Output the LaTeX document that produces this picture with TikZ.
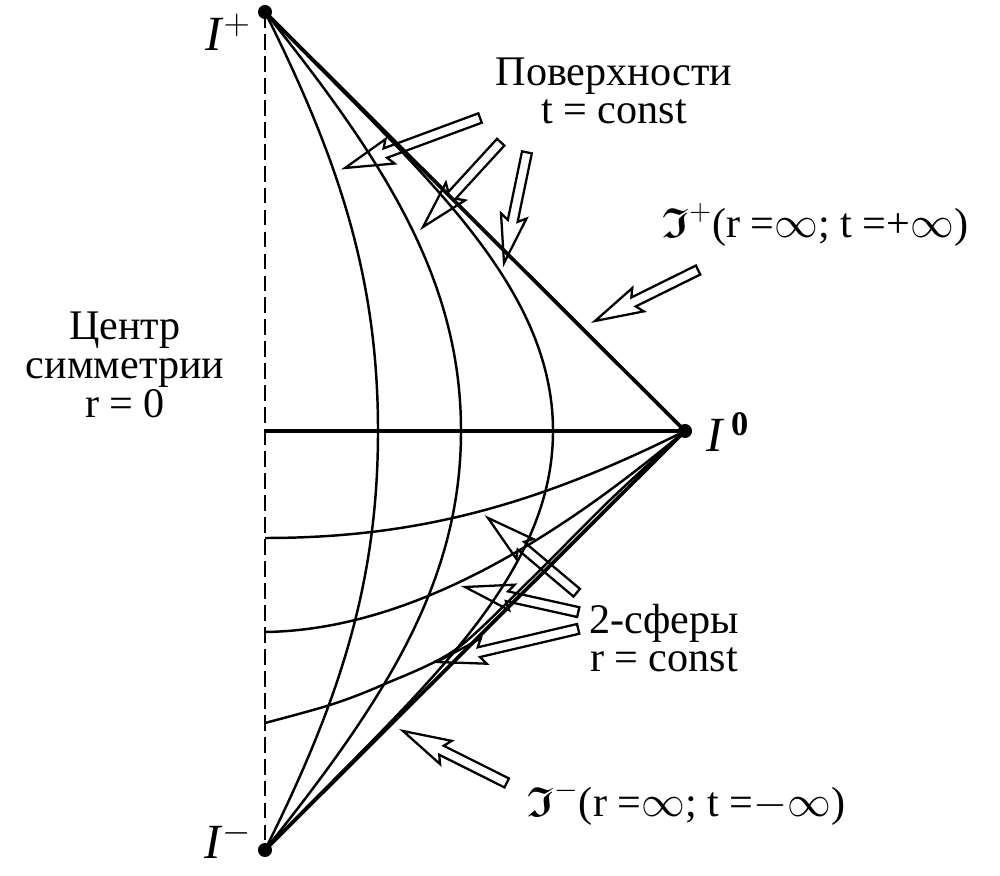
\documentclass[tikz,border=0pt]{standalone}
\usepackage{amsmath,amssymb}
\usepackage{fontspec}
\setmainfont{Liberation Serif}
\tikzset{>=stealth}

\tikzset{
  bigdot/.style={circle, fill=black, inner sep=0pt, minimum size=8pt},
  heavy/.style={line width=2.1pt},
  slice/.style={line width=1.4pt},
  lbl/.style={font=\fontsize{24}{22}\selectfont, align=center, inner sep=0pt},
  pics/harrow/.style={code={
    \draw[line width=1.3pt, line join=miter]
      (0,0) -- (-48,13) -- (-43,5) -- (-#1,5) -- (-#1,-5) -- (-43,-5) -- (-48,-13) -- cycle;}}
}

\begin{document}
\begin{tikzpicture}[x=0.02cm, y=0.02cm]
     \useasboundingbox (0,0) rectangle (1000,875);
     % corners of the diagram
     \node[bigdot] (Ip) at (265,863) {};
     \node[bigdot] (Im) at (265,25) {};
     \node[bigdot] (I0) at (685,444) {};
     \coordinate (O) at (265,444);
     \draw[line width=1.2pt, dash pattern=on 9pt off 3.5pt] (Ip.center) -- (Im.center);
     \draw[heavy] (Ip.center) -- (I0.center) -- (Im.center);
     \draw[heavy] (O) -- (I0.center);
     % curves from I+ to I-
     \draw[slice] (Ip.center) .. controls (340,713) and (378,595) .. (378,444)
                              .. controls (378,293) and (340,175) .. (Im.center);
     \draw[slice] (Ip.center) .. controls (385,713) and (461,595) .. (461,444)
                              .. controls (461,293) and (385,175) .. (Im.center);
     \draw[slice] (Ip.center) .. controls (412,710) and (553,595) .. (553,444)
                              .. controls (553,293) and (412,178) .. (Im.center);
     % curves from the axis to I0
     \draw[slice] (265,337) .. controls (415,337) and (535,369) .. (I0.center);
     \draw[slice] (265,243) .. controls (410,245) and (555,335) .. (I0.center);
     \draw[slice] plot[smooth] coordinates {(265,152) (330,170) (380,189) (455,225) (530,295) (610,375) (685,444)};
     % labels
     \node[lbl, font=\fontsize{28}{28}\selectfont] (Iplab) at (228,843) {\textit{I}$^{+}$};
     \node[lbl, font=\fontsize{28}{28}\selectfont] (Imlab) at (228,35) {\textit{I}$^{-}$};
     \node[lbl, font=\fontsize{28}{28}\selectfont] (I0lab) at (728,443) {\textit{I}$^{\,\mathbf{0}}$};
     \node[lbl] (surf) at (614,784) {Поверхности\\t = const};
     \node[lbl] (center) at (125,510) {Центр\\симметрии\\r = 0};
     \node[lbl] (spheres) at (664,237) {2-сферы\\r = const};
     \node[lbl] (scrip) at (815,650) {$\boldsymbol{\mathfrak{I}}^{+}$(r =$\infty$; t =+$\infty$)};
     \node[lbl] (scrim) at (686,72) {$\boldsymbol{\mathfrak{I}}^{-}$(r =$\infty$; t =$-\infty$)};
     % pointers
     \pic[rotate=200.3] at (345,707) {harrow=144};
     \pic[rotate=227.5] at (423,648) {harrow=115};
     \pic[rotate=258.3] at (504,612) {harrow=113};
     \pic[rotate=206.3] at (595,554) {harrow=115};
     \pic[rotate=139.9] at (488,357) {harrow=116};
     \pic[rotate=167.5] at (465,288) {harrow=116};
     \pic[rotate=193.2] at (437,213) {harrow=145};
     \pic[rotate=153.4] at (403,144) {harrow=116};
\end{tikzpicture}
\end{document}
